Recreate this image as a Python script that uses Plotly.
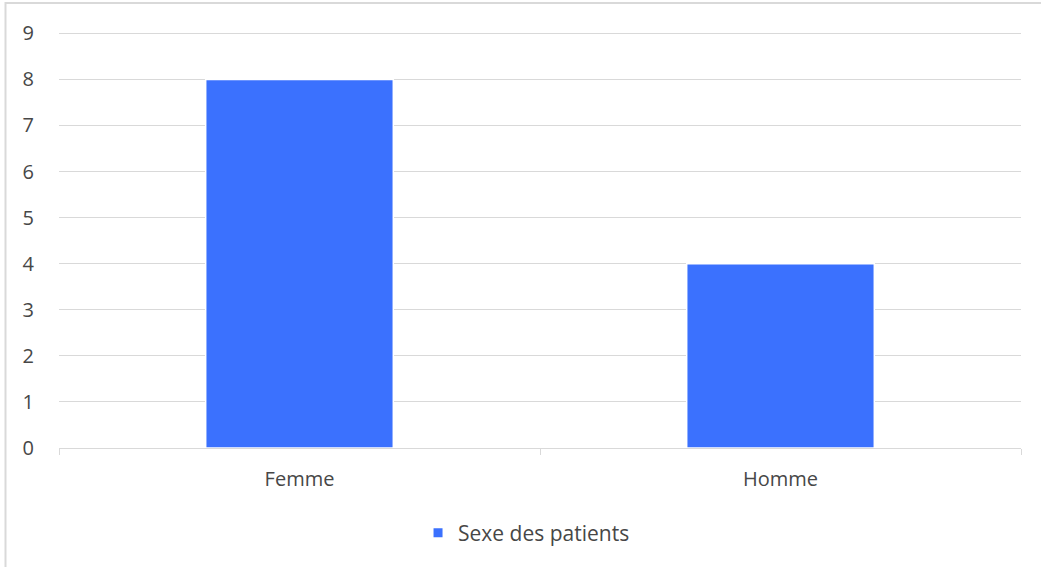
import plotly.graph_objects as go

categories = ["Femme", "Homme"]
values = [8, 4]
series_name = "Sexe des patients"
y_ticks = [0, 1, 2, 3, 4, 5, 6, 7, 8, 9]

bar_color = "#3B71FE"
grid_color = "#D9D9D9"
text_color = "#474747"
font_family = "'Open Sans', sans-serif"

W, H = 1041, 567
L, R, T, B = 59, 20, 31, 119
plot_h = H - T - B
plot_w = W - L - R

fig = go.Figure()
fig.add_trace(go.Bar(
    x=categories, y=values, name=series_name,
    marker=dict(color=bar_color, line=dict(color="white", width=1.5)),
    width=0.39, showlegend=False,
))
fig.add_trace(go.Scatter(
    x=[None], y=[None], mode="markers", name=series_name,
    marker=dict(symbol="square", size=9, color=bar_color),
    showlegend=True,
))

fig.update_layout(
    width=W, height=H,
    margin=dict(l=L, r=R, t=T, b=B),
    paper_bgcolor="white", plot_bgcolor="white",
    font=dict(family=font_family, size=20, color=text_color),
    showlegend=True,
    legend=dict(orientation="h", x=0.486, xanchor="center", y=-85 / plot_h, yanchor="middle",
                font=dict(size=21, color=text_color), itemwidth=30),
    shapes=[dict(type="rect", xref="paper", yref="paper",
                 x0=-53.5 / plot_w, x1=1.2, y0=-0.5, y1=1 + 28 / plot_h,
                 line=dict(color=grid_color, width=2), layer="below")],
)
fig.update_xaxes(
    type="category", showgrid=False, showline=True, linecolor=grid_color, linewidth=1,
    ticks="outside", tickson="boundaries", ticklen=6, tickcolor=grid_color,
    ticklabelstandoff=13, tickfont=dict(size=20, color=text_color),
)
fig.update_yaxes(
    range=[0, 9.05], tickvals=y_ticks, showgrid=True, gridcolor=grid_color, gridwidth=1,
    zeroline=False, showline=False, ticks="", ticklabelstandoff=24,
    tickfont=dict(size=20, color=text_color),
)

fig.write_html("out.html", config={"displayModeBar": False},
               post_script="document.body.style.margin='0px';")
